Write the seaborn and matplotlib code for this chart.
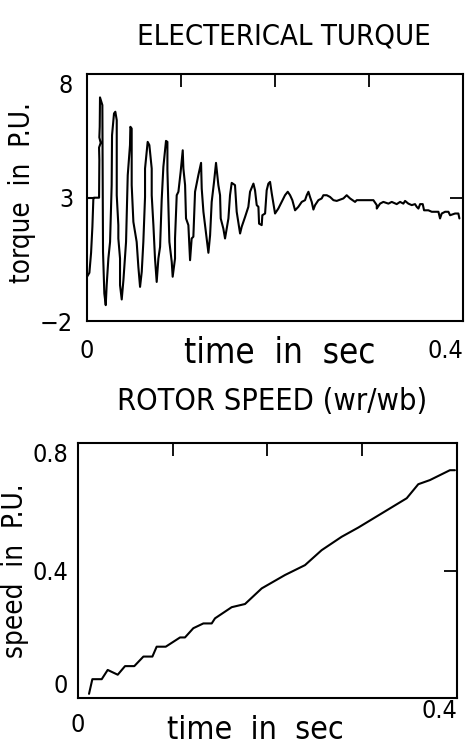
import numpy as np
import pandas as pd
import matplotlib
matplotlib.use('Agg')
import matplotlib.pyplot as plt
import seaborn as sns

# electrical torque trace (t in sec, torque in P.U.)
torque_t = [0.0, 0.0025, 0.0043, 0.0057, 0.0067, 0.0074, 0.0128, 0.0131, 0.0128, 0.0145, 0.0131,
            0.0135, 0.0138, 0.0163, 0.0167, 0.0170, 0.0184, 0.0199,
            0.0209, 0.0227, 0.0245, 0.0262, 0.0266, 0.0287, 0.0301, 0.0316, 0.0316, 0.0333, 0.0333,
            0.0351, 0.0351, 0.0369,
            0.0387, 0.0415, 0.0433, 0.0457, 0.0461, 0.0475, 0.0475, 0.0493, 0.0528, 0.0546, 0.0564,
            0.0582, 0.0599, 0.0617, 0.0617, 0.0645, 0.0663, 0.0688, 0.0688, 0.0706, 0.0723, 0.0741,
            0.0759, 0.0777, 0.0794, 0.0812, 0.0840, 0.0855, 0.0855, 0.0876, 0.0901, 0.0911,
            0.0936, 0.0936, 0.0954, 0.0972, 0.0996, 0.1018, 0.1025, 0.1043, 0.1053, 0.1078, 0.1096,
            0.1113, 0.1131, 0.1149, 0.1184, 0.1213, 0.1220, 0.1238, 0.1273, 0.1291,
            0.1309, 0.1326, 0.1351, 0.1372, 0.1397, 0.1415, 0.1422, 0.1450, 0.1468,
            0.1504, 0.1521, 0.1539, 0.1574, 0.1592, 0.1628,
            0.1645, 0.1681, 0.1716, 0.1734, 0.1770, 0.1787, 0.1805, 0.1823, 0.1830, 0.1858, 0.1865,
            0.1894, 0.1911, 0.1929, 0.1947, 0.1965, 0.2000, 0.2035, 0.2071, 0.2106, 0.2135, 0.2160,
            0.2184, 0.2213, 0.2248, 0.2284, 0.2319, 0.2337, 0.2355, 0.2372, 0.2390, 0.2408, 0.2426,
            0.2461, 0.2496, 0.2514, 0.2550, 0.2585, 0.2621, 0.2656, 0.2727, 0.2762, 0.2798, 0.2851,
            0.2869, 0.3046, 0.3082, 0.3082, 0.3117, 0.3152, 0.3206, 0.3241, 0.3294, 0.3330, 0.3365,
            0.3383, 0.3418, 0.3454, 0.3489, 0.3507, 0.3525, 0.3543, 0.3571, 0.3585, 0.3631, 0.3667,
            0.3738, 0.3755, 0.3773, 0.3809, 0.3844, 0.3862, 0.3915, 0.3950, 0.3961]
torque_v = [-0.20, -0.04, 0.77, 1.82, 2.93, 3.00, 3.00, 4.52, 5.03, 5.22, 5.44,
            5.87, 7.06, 6.75, 3.78, 0.81, -0.88, -1.35,
            -0.54, 0.54, 1.21, 3.51, 5.53, 6.41, 6.48, 6.14, 3.10, 1.89, 1.35,
            0.54, -0.54, -1.12,
            -0.34, 1.21, 3.91, 5.13, 5.87, 5.80, 3.51, 2.02, 1.21, 0.20, -0.61,
            0.00, 1.21, 3.03, 4.18, 5.26, 5.13, 4.18, 3.10, 1.89, 0.54, -0.41,
            0.54, 1.01, 2.90, 4.25, 5.30, 5.26, 4.11, 1.21, 0.40, -0.20,
            0.54, 1.35, 3.10, 3.24, 4.05, 4.92, 4.18, 3.51, 2.16, 1.89, 0.47,
            1.35, 1.42, 3.24, 3.91, 4.41, 3.37, 2.43, 1.35, 0.77,
            1.48, 2.83, 3.64, 4.41, 3.51, 3.10, 2.16, 1.75, 1.35,
            2.16, 3.10, 3.60, 3.51, 2.43, 1.55,
            1.82, 2.22, 2.63, 3.24, 3.57, 3.30, 2.70, 2.63, 1.95, 1.89, 2.29,
            2.36, 3.30, 3.57, 3.64, 3.17, 2.36, 2.56, 2.83, 3.10, 3.24, 3.10,
            2.90, 2.49, 2.63, 2.83, 2.90, 3.10, 3.24, 3.03, 2.83, 2.52, 2.70,
            2.90, 2.97, 3.10, 3.10, 3.03, 2.90, 2.87, 2.97, 3.10, 2.97, 2.83,
            2.90, 2.90, 2.70, 2.56, 2.76, 2.83, 2.76, 2.83, 2.74, 2.83, 2.76,
            2.87, 2.76, 2.70, 2.74, 2.63, 2.56, 2.74, 2.74, 2.49, 2.49, 2.43,
            2.43, 2.16, 2.36, 2.43, 2.43, 2.29, 2.36, 2.36, 2.16]

# initial torque level drawn from t = 0
init_t = [0.0, 0.0074]
init_v = [3.0, 3.0]

# rotor speed (wr/wb)
speed_t = [0.0116, 0.0151, 0.0250, 0.0313, 0.0419, 0.0496, 0.0594, 0.0690, 0.0785, 0.0830,
           0.0926, 0.1077, 0.1129, 0.1217, 0.1323, 0.1411, 0.1446, 0.1622, 0.1763, 0.1939,
           0.2185, 0.2396, 0.2572, 0.2783, 0.2959, 0.3470, 0.3592, 0.3715, 0.3926, 0.3979]
speed_v = [0.013, 0.059, 0.059, 0.088, 0.073, 0.100, 0.100, 0.130, 0.130, 0.161,
           0.161, 0.190, 0.190, 0.219, 0.234, 0.234, 0.250, 0.285, 0.295, 0.344,
           0.386, 0.417, 0.464, 0.506, 0.535, 0.627, 0.671, 0.684, 0.715, 0.715]

sns.set_theme(style='white')
plt.rcParams['font.family'] = ['DejaVu Sans']
plt.rcParams['font.stretch'] = 'condensed'
plt.rcParams['text.color'] = 'black'
plt.rcParams['axes.labelcolor'] = 'black'
plt.rcParams['axes.linewidth'] = 1.5

fig = plt.figure(figsize=(4.73, 7.54), dpi=100)
ax1 = fig.add_axes([0.184, 0.574, 0.795, 0.3276])
ax2 = fig.add_axes([0.165, 0.0743, 0.801, 0.338])

sns.lineplot(x=torque_t, y=torque_v, sort=False, estimator=None, color='black', lw=1.5, ax=ax1)
sns.lineplot(x=init_t, y=init_v, sort=False, estimator=None, color='black', lw=1.5, ax=ax1)
sns.lineplot(x=speed_t, y=speed_v, sort=False, estimator=None, color='black', lw=1.5, ax=ax2)

def style_axes(ax, ylim, yticks, ylabels, ypad, xpads):
    ax.set_xlim(0, 0.4)
    ax.set_ylim(*ylim)
    ax.set_xticks([0, 0.1, 0.2, 0.3, 0.4])
    ax.set_xticklabels(['0', '', '', '', '0.4'])
    ax.set_yticks(yticks)
    ax.set_yticklabels(ylabels)
    ax.tick_params(axis='both', direction='in', length=9.5, width=1.3, color='black',
                   top=True, right=True, labelsize=18, labelcolor='black')
    ax.tick_params(axis='y', pad=ypad)
    ticks = ax.xaxis.get_major_ticks()
    ticks[0].set_pad(xpads[0])
    ticks[4].set_pad(xpads[1])
    for s in ax.spines.values():
        s.set_color('black')
    ax.get_yticklabels()[-1].set_va('top')
    ax.get_xticklabels()[-1].set_ha('right')

style_axes(ax1, (-2, 8), [-2, 3, 8], ['\u22122', '3', '8'], 10, (13, 13))
style_axes(ax2, (0, 0.8), [0, 0.4, 0.8], ['0', '0.4', '0.8'], 7, (11, 1))
ax2.get_yticklabels()[0].set_va('bottom')

ax1.set_xlabel('time  in  sec', fontsize=25, va='center')
ax1.xaxis.set_label_coords(0.513, -0.125)
ax2.set_xlabel('time  in  sec', fontsize=23, va='center')
ax2.xaxis.set_label_coords(0.467, -0.129)

ax1.set_ylabel('torque  in  P.U.', fontsize=20, va='center')
ax1.yaxis.set_label_coords(-0.173, 0.52)
ax2.set_ylabel('speed  in  P.U.', fontsize=20, va='center')
ax2.yaxis.set_label_coords(-0.166, 0.50)

fig.text(284 / 473, 1 - 37 / 754, 'ELECTERICAL TURQUE', fontsize=21, ha='center', va='center')
fig.text(272 / 473, 1 - 401 / 754, 'ROTOR SPEED (wr/wb)', fontsize=22, ha='center', va='center')

fig.savefig('out.png', dpi=100, facecolor='white')
